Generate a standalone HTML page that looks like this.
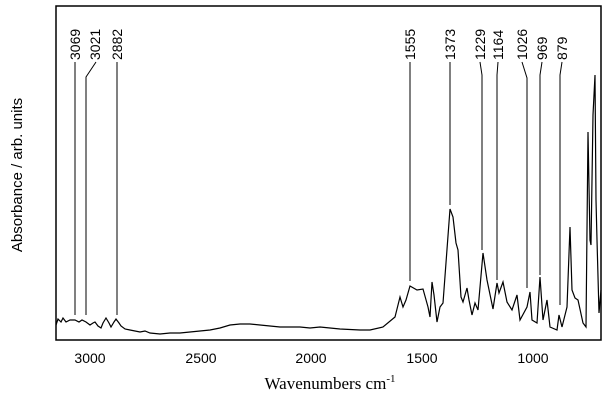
<!DOCTYPE html>
<html><head><style>body{margin:0;background:#fff}svg{display:block}</style></head><body>
<svg width="608" height="408" xmlns="http://www.w3.org/2000/svg">
<rect x="56" y="6" width="545" height="334" fill="none" stroke="#000" stroke-width="1.5"/>
<g font-family="Liberation Sans, sans-serif" font-size="14" text-anchor="middle" fill="#000">
<text x="90" y="363">3000</text><text x="201" y="363">2500</text><text x="311" y="363">2000</text><text x="422" y="363">1500</text><text x="533" y="363">1000</text>
</g>
<text x="330" y="389" font-family="Liberation Serif, serif" font-size="17" text-anchor="middle">Wavenumbers cm<tspan font-size="11" dy="-7">-1</tspan></text>
<text transform="translate(22,175) rotate(-90)" font-family="Liberation Sans, sans-serif" font-size="15" text-anchor="middle">Absorbance / arb. units</text>
<g font-family="Liberation Sans, sans-serif" font-size="14" fill="#000">
<text transform="translate(80,60) rotate(-90)">3069</text>
<text transform="translate(100,60) rotate(-90)">3021</text>
<text transform="translate(122,60) rotate(-90)">2882</text>
<text transform="translate(415,60) rotate(-90)">1555</text>
<text transform="translate(455,60) rotate(-90)">1373</text>
<text transform="translate(485,60) rotate(-90)">1229</text>
<text transform="translate(503,60) rotate(-90)">1164</text>
<text transform="translate(527,60) rotate(-90)">1026</text>
<text transform="translate(547,60) rotate(-90)">969</text>
<text transform="translate(567,60) rotate(-90)">879</text>
</g>
<g fill="none" stroke="#000" stroke-width="1">
<polyline points="75,62 75,315"/>
<polyline points="96,62 86,77 86,315"/>
<polyline points="117,62 117,315"/>
<polyline points="410,62 410,281"/>
<polyline points="450,62 450,205"/>
<polyline points="480,62 482,75 482,250"/>
<polyline points="498,62 497,75 497,280"/>
<polyline points="522,62 527,78 527,288"/>
<polyline points="542,62 540,75 540,275"/>
<polyline points="562,62 560,75 560,305"/>
<polyline stroke-width="1.2" points="56,325 58,319 61,322 63,318 66,322 70,320 75,320 79,322 82,320 86,322 90,325 93,323 95,322 98,326 101,328 103,323 106,318 109,323 111,327 114,322 116,319 119,323 121,326 125,329 130,330 140,332 145,331 150,333 160,334 170,333 180,333 190,332 200,331 210,330 220,328 230,325 240,324 250,324 260,325 270,326 280,327 290,327 300,327 310,328 320,327 330,328 340,329 360,330 370,330 383,327 395,317 400,297 403,307 406,300 410,286 417,290 423,289 428,307 430,317 432,282 434,295 437,322 440,307 443,303 450,209 453,217 456,243 458,250 461,297 463,302 467,288 469,300 472,315 475,303 478,310 483,253 487,280 493,309 497,283 499,293 503,282 507,302 512,310 517,295 520,320 527,307 530,292 532,320 537,323 540,277 543,320 547,300 550,327 557,330 559,315 562,327 567,307 570,227 572,290 575,298 578,300 583,323 586,327 588,132 590,240 591,245 593,115 595,75 596,200 597,240 599,313 601,290"/>
</g>
</svg>
</body></html>
